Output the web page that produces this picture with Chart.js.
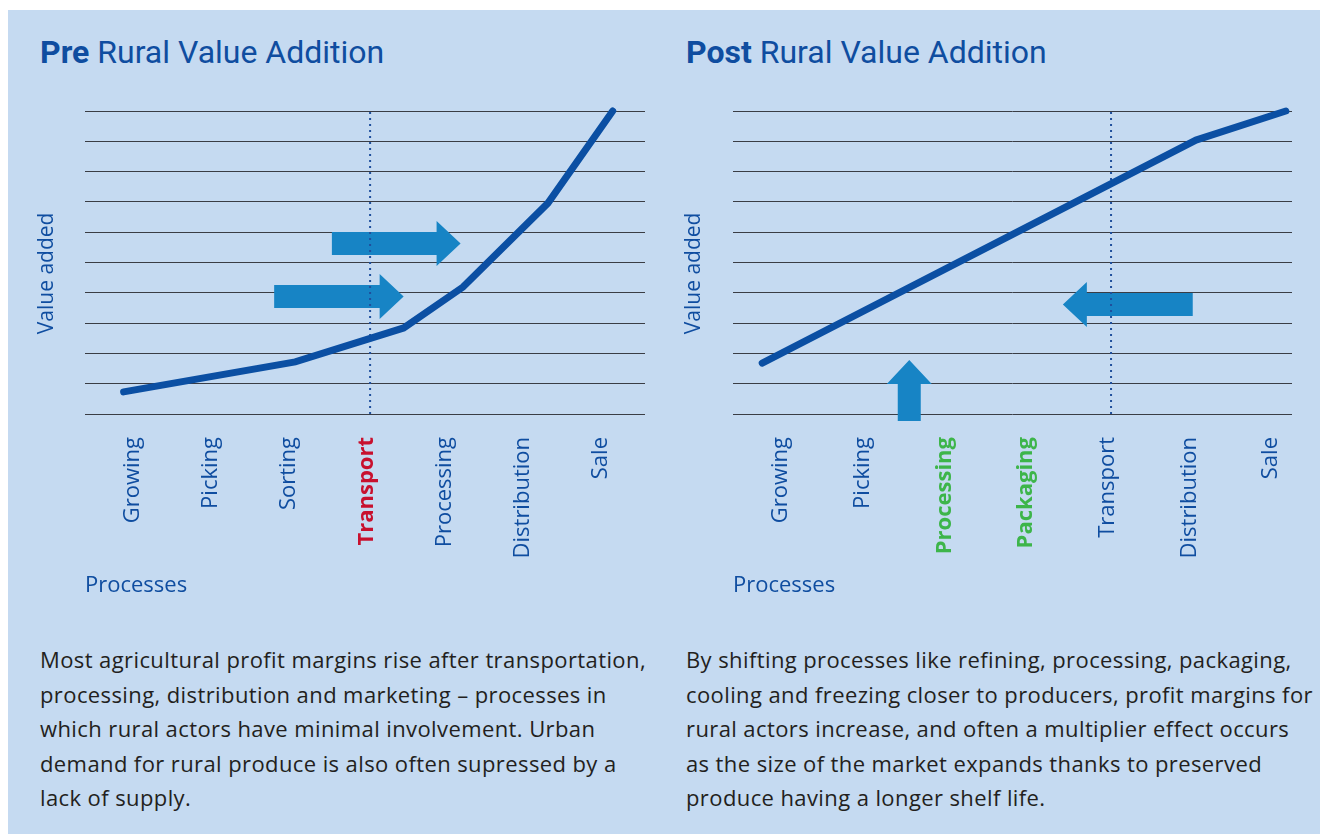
<!DOCTYPE html>
<html>
<head>
<meta charset="utf-8">
<script src="https://cdn.jsdelivr.net/npm/chart.js@4.4.0/dist/chart.umd.min.js"></script>
<style>
  body { margin: 0; background: #fff; width: 1320px; height: 834px; position: relative; overflow: hidden; font-family: "Open Sans", sans-serif; }
  #panel { position: absolute; left: 8px; top: 10px; width: 1312px; height: 824px; background: #c5daf1; }
  .title { position: absolute; top: 36px; font-family: Roboto, sans-serif; font-size: 32px; line-height: 32px; color: #0f4da0; white-space: nowrap; }
  .title b { font-weight: 700; }
  canvas { position: absolute; top: 90px; }
  .note { position: absolute; top: 642px; font-size: 22px; letter-spacing: 0.4px; line-height: 34.6px; color: #231f20; white-space: nowrap; }
</style>
</head>
<body>
<div id="panel"></div>
<div class="title" style="left:40px"><b>Pre</b> Rural Value Addition</div>
<div class="title" style="left:686px"><b>Post</b> Rural Value Addition</div>
<canvas id="pre" width="650" height="530" style="left:8px"></canvas>
<canvas id="post" width="656" height="530" style="left:655px"></canvas>
<div class="note" style="left:40px">Most agricultural profit margins rise after transportation,<br>processing, distribution and marketing – processes in<br>which rural actors have minimal involvement. Urban<br>demand for rural produce is also often supressed by a<br>lack of supply.</div>
<div class="note" style="left:686px">By shifting processes like refining, processing, packaging,<br>cooling and freezing closer to producers, profit margins for<br>rural actors increase, and often a multiplier effect occurs<br>as the size of the market expands thanks to preserved<br>produce having a longer shelf life.</div>
<script>
// categories on the x axis (index = position)
const preCategories = ["Growing", "Picking", "Sorting", "Transport", "Processing", "Distribution", "Sale"];
const postCategories = ["Growing", "Picking", "Processing", "Packaging", "Transport", "Distribution", "Sale"];

// value-added curve, x in category units, y in grid steps (0-10)
const preValueX = [-0.12, 2.08, 3.47, 4.23, 5.32, 6.15];
const preValueY = [0.73, 1.72, 2.84, 4.19, 6.96, 10];
const postValueX = [-0.23, 5.08, 6.18];
const postValueY = [1.68, 9.04, 10];

// dotted marker at transport
const preTransportX = 3.04;
const postTransportX = 4.04;

// arrows, [x, y] from -> to
const preArrows = [
  { from: [2.55, 5.63], to: [4.2, 5.63] },
  { from: [1.81, 3.88], to: [3.47, 3.88] }
];
const postArrows = [
  { from: [5.04, 3.61], to: [3.45, 3.61] },
  { from: [1.57, -0.23], to: [1.57, 1.78] }
];

// highlighted tick labels
const preHighlight = { Transport: "#c8102e" };
const postHighlight = { Processing: "#3db54a", Packaging: "#3db54a" };

const BLUE = "#0f4da0";
const LINE = "#0b4fa3";
const ARROW = "#1784c5";
const GRID = "#3a3d45";

const arrowPlugin = {
  id: "arrows",
  beforeDatasetsDraw(chart, args, opts) {
    const { ctx } = chart;
    const x = chart.scales.x, y = chart.scales.y;
    opts.list.forEach(function (a) {
      const x0 = x.getPixelForValue(a.from[0]), y0 = y.getPixelForValue(a.from[1]);
      const x1 = x.getPixelForValue(a.to[0]), y1 = y.getPixelForValue(a.to[1]);
      const len = Math.hypot(x1 - x0, y1 - y0);
      const hb = opts.body / 2, hh = opts.head / 2, hl = opts.headLen;
      ctx.save();
      ctx.translate(x0, y0);
      ctx.rotate(Math.atan2(y1 - y0, x1 - x0));
      ctx.fillStyle = opts.color;
      ctx.beginPath();
      ctx.moveTo(0, -hb);
      ctx.lineTo(len - hl, -hb);
      ctx.lineTo(len - hl, -hh);
      ctx.lineTo(len, 0);
      ctx.lineTo(len - hl, hh);
      ctx.lineTo(len - hl, hb);
      ctx.lineTo(0, hb);
      ctx.closePath();
      ctx.fill();
      ctx.restore();
    });
  }
};

function makeChart(id, cats, xs, ys, divX, arrows, highlight, xMin, xMax, yWidth, padRight) {
  const ctx = document.getElementById(id).getContext("2d");
  return new Chart(ctx, {
    type: "line",
    data: {
      datasets: [
        {
          data: xs.map((v, i) => ({ x: v, y: ys[i] })),
          borderColor: LINE,
          borderWidth: 7,
          borderCapStyle: "round",
          borderJoinStyle: "miter",
          pointRadius: 0,
          tension: 0,
          clip: false
        },
        {
          data: [{ x: divX, y: 0 }, { x: divX, y: 10 }],
          borderColor: "#1f4f9c",
          borderWidth: 2,
          borderDash: [2, 4],
          pointRadius: 0
        }
      ]
    },
    options: {
      responsive: false,
      animation: false,
      layout: { padding: { top: 21, right: padRight, left: 0, bottom: 0 } },
      plugins: {
        legend: { display: false },
        tooltip: { enabled: false },
        arrows: { list: arrows, color: ARROW, body: 23, head: 45, headLen: 24 }
      },
      scales: {
        x: {
          type: "linear",
          min: xMin,
          max: xMax,
          afterBuildTicks: function (s) { s.ticks = cats.map((c, i) => ({ value: i })); },
          afterFit: function (s) { s.height = 206; s.paddingLeft = 0; s.paddingRight = 0; },
          grid: { display: false, drawTicks: false },
          border: { display: false },
          ticks: {
            autoSkip: false,
            minRotation: 90,
            maxRotation: 90,
            padding: 23,
            callback: (v, i) => cats[i],
            color: (c) => highlight[cats[c.index]] || BLUE,
            font: (c) => ({ family: "Open Sans", size: 22, weight: highlight[cats[c.index]] ? "bold" : "normal" })
          },
          title: {
            display: true,
            text: "Processes",
            align: "start",
            color: BLUE,
            font: { family: "Open Sans", size: 22 },
            padding: { top: 0, bottom: 21 }
          }
        },
        y: {
          min: 0,
          max: 10,
          afterFit: function (s) { s.width = yWidth; },
          ticks: { display: false, stepSize: 1 },
          grid: { color: GRID, lineWidth: 1, drawTicks: false },
          border: { display: false },
          title: {
            display: true,
            text: "Value added\u00a0\u00a0\u00a0\u00a0",
            color: BLUE,
            font: { family: "Open Sans", size: 21 },
            padding: { top: 26, bottom: 0 }
          }
        }
      }
    },
    plugins: [arrowPlugin]
  });
}

makeChart("pre", preCategories, preValueX, preValueY, preTransportX, preArrows, preHighlight, -0.615, 6.564, 77, 13);
makeChart("post", postCategories, postValueX, postValueY, postTransportX, postArrows, postHighlight, -0.5875, 6.255, 78, 19);
</script>
</body>
</html>
